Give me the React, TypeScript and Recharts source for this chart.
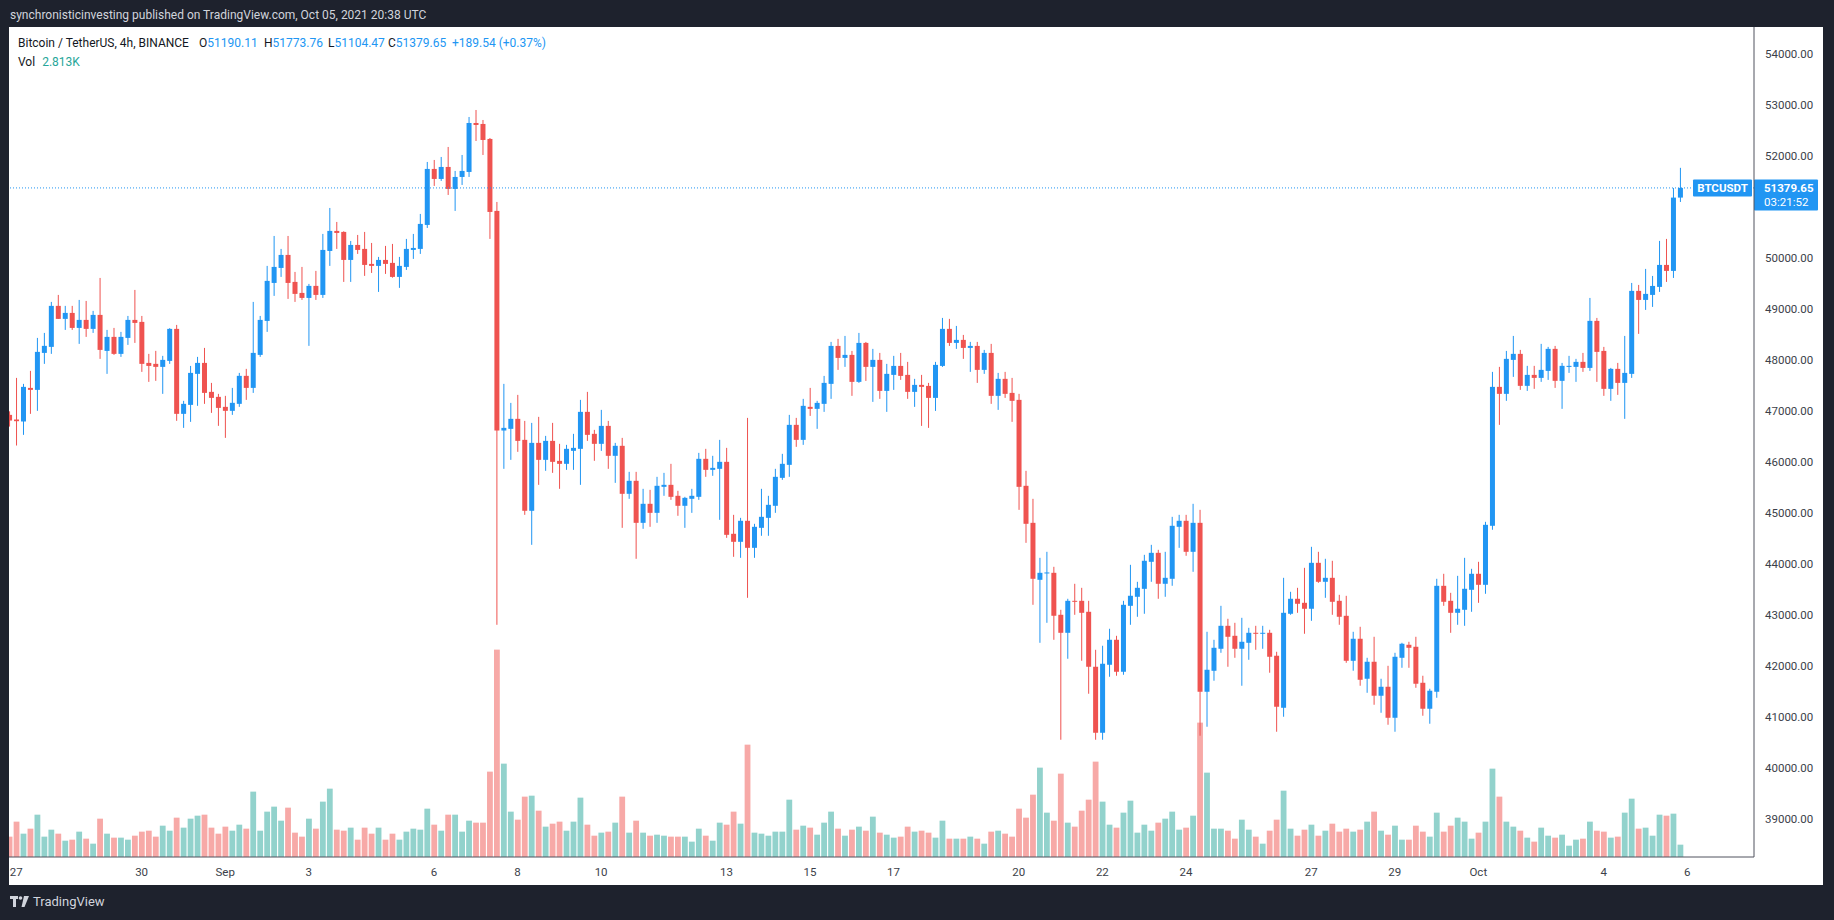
import { ComposedChart, Bar, XAxis, YAxis, ReferenceLine } from "recharts";

// 4h candles, BTC/USDT Binance, first bar = Aug 26 20:00, last = Oct 5 20:00
const firstBar = -1;

const opens = [
  46930, 46839, 46800, 47459, 47420, 48145, 48263, 49067, 48812, 48929,
  48635, 48792, 48616, 48890, 48184, 48459, 48126, 48439, 48792, 48753,
  47949, 47930, 47871, 47988, 48616, 46950, 47126, 47734, 47949, 47381,
  47283, 47087, 47009, 47146, 47695, 47459, 48106, 48772, 49517, 49811,
  50066, 49537, 49321, 49223, 49459, 49282, 50144, 50537, 50517, 49968,
  50262, 50184, 49890, 49851, 49968, 49910, 49635, 49831, 50164, 50184,
  50654, 51752, 51556, 51791, 51360, 51595, 51693, 52653, 52634, 52340,
  50929, 46623, 46656, 46852, 46440, 45049, 46381, 46048, 46420, 46028,
  45970, 46225, 46264, 46989, 46558, 46362, 46714, 46127, 46323, 45382,
  45637, 44813, 45186, 45009, 45519, 45558, 45343, 45147, 45284, 45323,
  46068, 45852, 45872, 46009, 44598, 44441, 44853, 44323, 44715, 44911,
  45147, 45695, 45950, 46734, 46440, 47087, 47048, 47146, 47538, 48282,
  48047, 48106, 47577, 48341, 47871, 48008, 47400, 47714, 47890, 47714,
  47381, 47518, 47498, 47263, 47890, 48616, 48341, 48400, 48243, 48282,
  47812, 48145, 47303, 47636, 47361, 47224, 45539, 44813, 43696, 43823,
  43833, 43010, 42657, 43284, 43284, 43069, 41991, 40697, 42030, 42520,
  41893, 43186, 43363, 43519, 44049, 44225, 43618, 43716, 44735, 44853,
  44245, 44813, 41501, 41912, 42344, 42794, 42598, 42344, 42461, 42657,
  42638, 42657, 42207, 41187, 43030, 43324, 43245, 43128, 44029, 43657,
  43735, 43284, 42990, 42108, 42540, 41756, 42089, 41423, 41599, 40991,
  42167, 42422, 42383, 41677, 41168, 41501, 43578, 43284, 43049, 43108,
  43500, 43814, 43598, 44755, 47479, 47342, 48008, 48126, 47499, 47714,
  47655, 47792, 48224, 47597, 47870, 47871, 47969, 47851, 48773, 48184,
  47440, 47832, 47557, 47734, 49361, 49184, 49282, 49439, 49870, 49753,
  51190.11,
];

const highs = [
  47000, 47655, 47538, 47793, 48439, 48537, 49145, 49282, 49067, 49067,
  49184, 49164, 48969, 49615, 48596, 48635, 48557, 48870, 49380, 48870,
  48126, 48185, 48087, 48630, 48694, 47205, 47890, 48067, 48243, 47557,
  47342, 47303, 47459, 47753, 47832, 49145, 48870, 49851, 50438, 50184,
  50438, 49733, 49831, 49498, 49753, 50478, 50987, 50713, 50530, 50340,
  50458, 50517, 50301, 50027, 50243, 50282, 50027, 50380, 50478, 50870,
  51889, 51928, 51987, 52183, 51713, 52026, 52771, 52908, 52712, 52359,
  51105, 47538, 47165, 47322, 46812, 46773, 46891, 46518, 46773, 46362,
  46342, 46558, 47224, 47381, 46636, 47028, 46812, 46381, 46479, 45813,
  45813, 45480, 45460, 45715, 45793, 45970, 45441, 45323, 45480, 46185,
  46264, 46127, 46440, 46283, 44970, 44911, 46871, 44794, 45480, 45343,
  45872, 46166, 46930, 46871, 47244, 47459, 47205, 47694, 48361, 48420,
  48478, 48184, 48537, 48360, 48224, 48145, 47930, 48087, 48145, 47969,
  47636, 47714, 47557, 47969, 48831, 48812, 48674, 48498, 48361, 48361,
  48204, 48322, 47753, 47773, 47655, 47342, 45833, 45284, 44127, 44245,
  43951, 43108, 43324, 43618, 43539, 43284, 42324, 42403, 42736, 42598,
  43284, 43990, 43657, 44186, 44382, 44284, 44245, 44931, 44970, 44970,
  45186, 45068, 42677, 42520, 43186, 42932, 42853, 42951, 42755, 42794,
  42794, 42716, 42285, 43735, 43461, 43539, 43931, 44343, 44245, 44108,
  44069, 43402, 43382, 42677, 42775, 42167, 42579, 41756, 42010, 42265,
  42461, 42481, 42579, 41815, 41560, 43716, 43814, 43441, 43774, 44127,
  43912, 44049, 44833, 47773, 47871, 48184, 48478, 48204, 47891, 47891,
  48322, 48263, 48282, 47949, 48087, 48028, 48145, 49223, 48831, 48263,
  47851, 47949, 48478, 49517, 49478, 49792, 49654, 50341, 50380, 51379,
  51773.76,
];

const lows = [
  46700, 46329, 46538, 46950, 47009, 47930, 48126, 48812, 48596, 48596,
  48322, 48459, 48537, 48028, 47734, 48106, 48067, 48302, 48341, 47773,
  47577, 47597, 47342, 47930, 46813, 46675, 46793, 47107, 47146, 46969,
  46715, 46479, 46930, 47087, 47224, 47361, 48067, 48557, 49263, 49635,
  49204, 49145, 49184, 48283, 49184, 49223, 49851, 50184, 49537, 49537,
  50086, 49655, 49713, 49341, 49694, 49620, 49420, 49772, 49988, 50086,
  50595, 51419, 51517, 51242, 50929, 51438, 51595, 52300, 52026, 50380,
  42814, 45872, 46048, 46205, 44970, 44382, 45558, 45833, 45793, 45480,
  45852, 45852, 45558, 46420, 46029, 46224, 45872, 45597, 44715, 45284,
  44108, 44696, 44735, 44813, 45343, 45264, 44951, 44715, 45009, 45264,
  45715, 45735, 44872, 44519, 44147, 44127, 43343, 44127, 44559, 44559,
  45009, 45656, 45715, 46303, 46342, 46910, 46656, 46989, 47244, 47812,
  47871, 47303, 47557, 47596, 47185, 47244, 46989, 47420, 47616, 47244,
  47087, 46714, 46675, 47008, 47870, 48282, 48224, 48028, 47773, 47557,
  47734, 47146, 47028, 47263, 46793, 45068, 44421, 43206, 42461, 42853,
  42520, 40560, 42148, 43010, 42109, 41462, 40560, 40560, 41795, 41815,
  41834, 42814, 42971, 43030, 43657, 43324, 43363, 43579, 44323, 44167,
  43853, 40639, 40815, 41717, 42265, 41991, 42167, 41619, 42128, 42324,
  42344, 41874, 40717, 41011, 43010, 43049, 42638, 42892, 43637, 43343,
  43010, 42814, 42069, 41913, 41619, 41481, 41246, 41089, 40854, 40717,
  41971, 41971, 41579, 41031, 40874, 41383, 43186, 42657, 42814, 42794,
  43069, 43245, 43422, 44677, 46734, 47205, 47675, 47420, 47400, 47440,
  47577, 47616, 47459, 47048, 47753, 47577, 47773, 47792, 47577, 47303,
  47205, 47322, 46852, 47655, 48518, 48988, 49047, 49341, 49537, 49615,
  51104.47,
];

const closes = [
  46819, 46806, 47479, 47420, 48165, 48283, 49067, 48812, 48929, 48635,
  48792, 48616, 48890, 48204, 48459, 48126, 48459, 48792, 48733, 47930,
  47890, 47871, 48008, 48616, 46950, 47146, 47753, 47949, 47361, 47263,
  47067, 47009, 47166, 47695, 47459, 48145, 48792, 49557, 49831, 50066,
  49517, 49302, 49223, 49459, 49282, 50164, 50537, 50497, 49968, 50262,
  50164, 49870, 49851, 49968, 49890, 49635, 49851, 50184, 50203, 50674,
  51752, 51556, 51791, 51360, 51595, 51713, 52653, 52614, 52320, 50909,
  46623, 46675, 46852, 46420, 45049, 46381, 46048, 46420, 46009, 45970,
  46264, 46283, 46989, 46538, 46362, 46714, 46127, 46323, 45382, 45637,
  44813, 45186, 45009, 45539, 45558, 45323, 45147, 45303, 45343, 46068,
  45852, 45891, 46009, 44578, 44441, 44853, 44323, 44735, 44931, 45166,
  45715, 45970, 46734, 46440, 47107, 47048, 47165, 47557, 48282, 48047,
  48106, 47577, 48341, 47871, 48008, 47400, 47734, 47890, 47694, 47381,
  47518, 47479, 47263, 47910, 48616, 48341, 48400, 48243, 48282, 47812,
  48145, 47303, 47636, 47342, 47205, 45519, 44794, 43716, 43833, 43840,
  42991, 42657, 43284, 43265, 43049, 41991, 40697, 42050, 42520, 41893,
  43206, 43383, 43539, 44069, 44225, 43618, 43735, 44755, 44853, 44245,
  44813, 41501, 41932, 42363, 42794, 42579, 42344, 42481, 42657, 42638,
  42657, 42187, 41207, 43049, 43324, 43226, 43128, 44029, 43657, 43735,
  43265, 42971, 42108, 42540, 41736, 42089, 41423, 41599, 40991, 42187,
  42442, 42363, 41658, 41168, 41521, 43578, 43265, 43049, 43128, 43520,
  43814, 43598, 44774, 47479, 47342, 48028, 48126, 47499, 47714, 47655,
  47812, 48224, 47597, 47891, 47891, 47969, 47851, 48773, 48165, 47440,
  47832, 47557, 47753, 49361, 49184, 49302, 49458, 49870, 49753, 51190,
  51379.65,
];

// volume in thousands of BTC
const volumes = [
  4.64, 8.06, 5.32, 6.46, 9.65, 4.64, 6.23, 5.32, 3.72, 3.95,
  5.78, 4.18, 3.04, 8.74, 5.32, 4.41, 4.41, 3.95, 4.86, 5.78,
  6.0, 4.64, 7.14, 6.0, 8.97, 6.69, 8.74, 9.42, 9.65, 6.69,
  5.32, 6.92, 6.0, 7.37, 6.46, 14.9, 6.0, 10.34, 11.48, 8.28,
  11.25, 5.55, 4.64, 8.74, 6.46, 12.62, 15.58, 6.23, 6.0, 6.69,
  3.95, 6.69, 5.32, 6.69, 3.95, 5.32, 3.95, 5.78, 6.46, 6.23,
  11.02, 7.37, 6.0, 9.65, 9.65, 5.78, 8.28, 7.83, 7.83, 19.46,
  47.27, 21.28, 10.34, 8.51, 13.76, 13.98, 10.56, 6.92, 7.6, 8.06,
  6.0, 8.06, 13.53, 7.37, 4.86, 5.55, 5.78, 7.83, 13.76, 5.55,
  8.28, 5.55, 4.86, 5.09, 4.86, 4.64, 4.64, 4.64, 3.5, 6.46,
  4.86, 3.72, 7.83, 7.37, 10.34, 7.6, 25.61, 5.55, 5.32, 4.86,
  5.78, 5.78, 13.07, 6.23, 7.14, 6.69, 5.09, 7.83, 10.34, 6.46,
  4.86, 6.23, 6.92, 6.0, 9.2, 5.55, 5.09, 4.41, 4.64, 6.92,
  5.78, 6.0, 5.55, 4.41, 8.28, 4.18, 4.18, 4.18, 4.64, 4.18,
  3.04, 5.78, 6.0, 5.32, 4.64, 11.02, 8.97, 14.21, 20.37, 10.11,
  8.28, 19.0, 7.83, 6.92, 10.56, 13.07, 21.74, 12.62, 7.37, 6.69,
  10.11, 12.84, 5.55, 7.37, 6.0, 7.83, 8.74, 10.34, 6.23, 6.69,
  9.42, 30.63, 19.23, 6.46, 6.46, 6.0, 4.18, 8.51, 6.23, 4.64,
  3.04, 6.0, 8.51, 15.12, 6.46, 4.86, 6.23, 7.37, 4.86, 6.0,
  7.6, 5.78, 6.46, 5.78, 6.23, 8.06, 10.34, 6.0, 5.09, 7.14,
  3.95, 3.95, 7.14, 5.78, 4.64, 10.11, 5.78, 7.14, 8.97, 8.06,
  4.18, 5.55, 8.06, 20.14, 13.76, 8.06, 6.92, 6.0, 4.41, 3.5,
  6.69, 4.86, 4.41, 5.09, 2.58, 3.95, 4.18, 8.06, 6.0, 5.78,
  4.41, 4.64, 10.11, 13.3, 6.46, 6.69, 4.86, 9.65, 9.42, 9.88,
  2.813,
];

const tickBars = [0, 18, 30, 42, 60, 72, 84, 102, 114, 126, 144, 156, 168, 186, 198, 210, 228, 240];
const tickLabels = ["27", "30", "Sep", "3", "6", "8", "10", "13", "15", "17", "20", "22", "24", "27", "29", "Oct", "4", "6"];
const priceTicks = [39000, 40000, 41000, 42000, 43000, 44000, 45000, 46000, 47000, 48000, 49000, 50000, 52000, 53000, 54000];

const symbol = "BTCUSDT";
const lastPrice = 51379.65;
const countdown = "03:21:52";

const UP = "#2196f3";
const DOWN = "#ef5350";
const VOL_UP = "#92d2cc";
const VOL_DOWN = "#f7a9a7";
const TEXT = "#3c3f4a";
const FONT = "Roboto, sans-serif";

const rows = opens.map((o, k) => ({
  i: firstBar + k,
  open: o,
  high: highs[k],
  low: lows[k],
  close: closes[k],
  range: [lows[k], highs[k]],
  vol: volumes[k],
}));

const Candle = (props: any) => {
  const { x, y, width, height, payload } = props;
  if (!payload || y == null || height == null) return null;
  const top = Math.min(y, y + height);
  const h = Math.abs(height);
  const k = h / (payload.high - payload.low);
  const yOf = (v: number) => top + (payload.high - v) * k;
  const color = payload.close >= payload.open ? UP : DOWN;
  const cx = x + width / 2;
  const bTop = yOf(Math.max(payload.open, payload.close));
  const bBot = yOf(Math.min(payload.open, payload.close));
  return (
    <g>
      <rect x={cx - 0.5} y={top} width={1} height={h} fill={color} />
      <rect x={cx - 2.5} y={bTop} width={5} height={Math.max(bBot - bTop, 1)} fill={color} />
    </g>
  );
};

const VolumeBar = (props: any) => {
  const { x, y, width, height, payload } = props;
  if (!payload || y == null || height == null) return null;
  const cx = x + width / 2;
  const color = payload.close >= payload.open ? VOL_UP : VOL_DOWN;
  return <rect x={cx - 2.9} y={Math.min(y, y + height)} width={5.8} height={Math.abs(height)} fill={color} />;
};

const PriceTag = (props: any) => {
  const vb = props.viewBox || {};
  const right = (vb.x || 0) + (vb.width || 0);
  const y = vb.y || 0;
  return (
    <g fontFamily={FONT} fontSize={11.5}>
      <rect x={right - 61} y={y - 8.5} width={59} height={17} fill={UP} rx={1} />
      <text x={right - 31.5} y={y} dy="0.36em" textAnchor="middle" fill="#fff" fontWeight="bold">
        {symbol}
      </text>
      <rect x={right} y={y - 8.5} width={64} height={31} fill={UP} rx={1} />
      <text x={right + 10} y={y} dy="0.36em" fill="#fff" fontWeight="bold">
        {lastPrice.toFixed(2)}
      </text>
      <text x={right + 10} y={y + 14} dy="0.36em" fill="#fff">
        {countdown}
      </text>
    </g>
  );
};

const xDomain = [-1.05, 249.6];

export default function App() {
  return (
    <div
      style={{
        position: "absolute",
        left: 0,
        top: 0,
        width: 1834,
        height: 920,
        background: "#1e222d",
        fontFamily: FONT,
        overflow: "hidden",
      }}
    >
      <div style={{ position: "absolute", left: 10, top: 8, fontSize: 12, lineHeight: "14px", color: "#d1d4dc", whiteSpace: "nowrap" }}>
        synchronisticinvesting published on TradingView.com, Oct 05, 2021 20:38 UTC
      </div>

      <div style={{ position: "absolute", left: 9, top: 27, width: 1814, height: 858, background: "#ffffff" }}>
        <ComposedChart width={1814} height={858} data={rows} margin={{ top: 0, right: 0, bottom: 0, left: 0 }}>
          <XAxis
            xAxisId="p"
            dataKey="i"
            type="number"
            domain={xDomain}
            allowDataOverflow
            ticks={tickBars}
            interval={0}
            tickFormatter={(v: number) => tickLabels[tickBars.indexOf(v)] ?? ""}
            height={28}
            axisLine={{ stroke: "#50535e" }}
            tickLine={false}
            tickMargin={5}
            tick={{ fontSize: 11.5, fill: TEXT, fontFamily: FONT }}
          />
          <XAxis xAxisId="v" dataKey="i" type="number" domain={xDomain} allowDataOverflow hide />
          <YAxis
            yAxisId="p"
            orientation="right"
            width={69}
            domain={[38261, 54535]}
            allowDataOverflow
            ticks={priceTicks}
            interval={0}
            tickFormatter={(v: number) => v.toFixed(2)}
            axisLine={{ stroke: "#50535e" }}
            tickLine={false}
            tickMargin={5}
            tick={{ fontSize: 11.5, fill: TEXT, fontFamily: FONT }}
          />
          <YAxis yAxisId="v" hide domain={[0, 189.2]} allowDataOverflow />
          <Bar xAxisId="v" yAxisId="v" dataKey="vol" shape={VolumeBar} isAnimationActive={false} />
          <Bar xAxisId="p" yAxisId="p" dataKey="range" shape={Candle} isAnimationActive={false} />
          <ReferenceLine
            xAxisId="p"
            yAxisId="p"
            y={lastPrice}
            stroke={UP}
            strokeDasharray="1 2"
            label={<PriceTag />}
          />
        </ComposedChart>
      </div>

      <div style={{ position: "absolute", left: 18, top: 36, fontSize: 12, lineHeight: "14px", color: "#131722", whiteSpace: "nowrap" }}>
        Bitcoin / TetherUS, 4h, BINANCE
      </div>
      {[
        ["O", opens[opens.length - 1].toFixed(2), 199],
        ["H", highs[highs.length - 1].toFixed(2), 264],
        ["L", lows[lows.length - 1].toFixed(2), 328],
        ["C", closes[closes.length - 1].toFixed(2), 388],
      ].map(([k, v, left]) => (
        <div
          key={k as string}
          style={{ position: "absolute", left: left as number, top: 36, fontSize: 12, lineHeight: "14px", whiteSpace: "nowrap" }}
        >
          <span style={{ color: "#131722" }}>{k}</span>
          <span style={{ color: UP }}>{v}</span>
        </div>
      ))}
      <div style={{ position: "absolute", left: 452, top: 36, fontSize: 12, lineHeight: "14px", color: UP, whiteSpace: "nowrap" }}>
        +189.54 (+0.37%)
      </div>
      <div style={{ position: "absolute", left: 18, top: 55, fontSize: 12, lineHeight: "14px", whiteSpace: "nowrap" }}>
        <span style={{ color: "#131722" }}>Vol</span>
        <span style={{ color: "#26a69a", marginLeft: 7 }}>{volumes[volumes.length - 1].toFixed(3)}K</span>
      </div>

      <svg style={{ position: "absolute", left: 10, top: 896 }} width={20} height={12}>
        <rect x={0} y={0} width={8} height={3} fill="#d1d4dc" />
        <rect x={3} y={0} width={3} height={11} fill="#d1d4dc" />
        <circle cx={10.5} cy={2} r={1.8} fill="#d1d4dc" />
        <polygon points="14,0 19,0 14.5,11 11.5,11" fill="#d1d4dc" />
      </svg>
      <div style={{ position: "absolute", left: 33, top: 894, fontSize: 13, lineHeight: "16px", color: "#d1d4dc", whiteSpace: "nowrap" }}>
        TradingView
      </div>
    </div>
  );
}
